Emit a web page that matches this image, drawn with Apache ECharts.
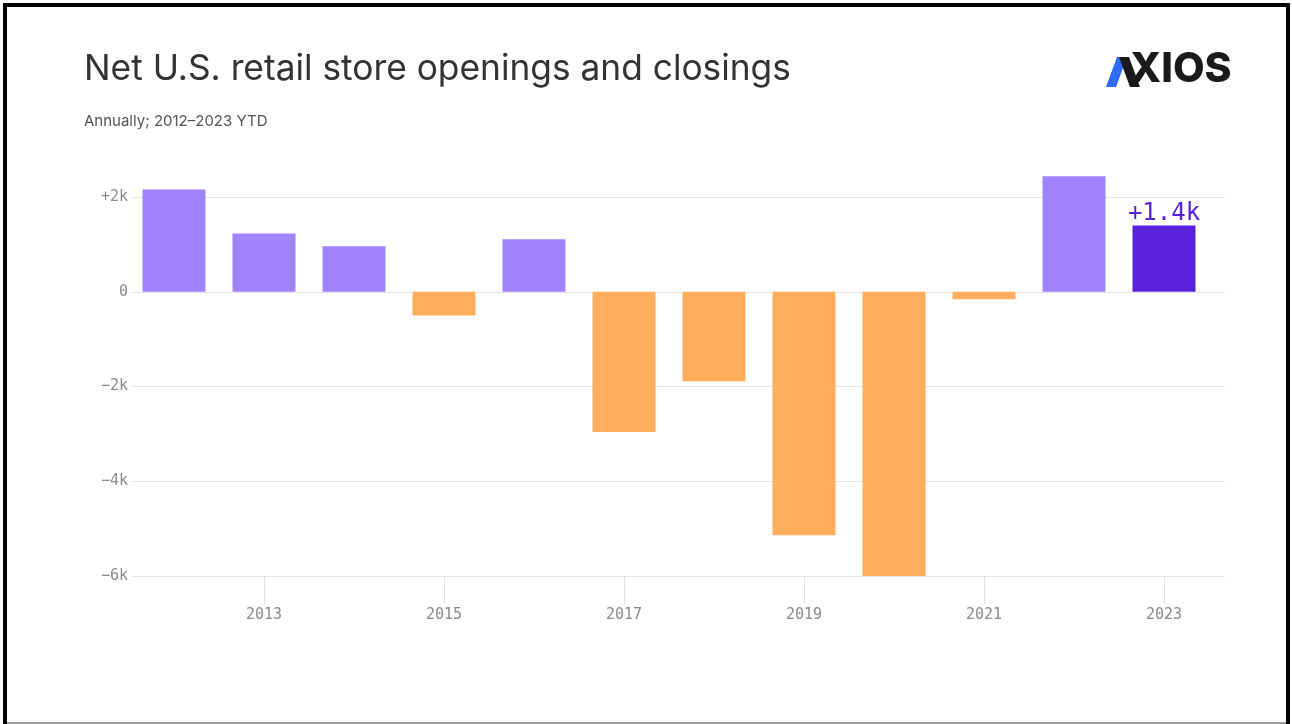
<!DOCTYPE html>
<html>
<head>
<meta charset="utf-8">
<title>Net U.S. retail store openings and closings</title>
<script src="https://cdn.jsdelivr.net/npm/echarts@6/dist/echarts.min.js"></script>
<style>
  html, body { margin: 0; padding: 0; background: #fff; overflow: hidden; }
  #chart { position: absolute; left: 0; top: 0; width: 1292px; height: 724px; }
  #frame { position: absolute; left: 3px; top: 3px; width: 1279px; height: 740px;
           border: 4px solid #000; pointer-events: none; }
  #floor { position: absolute; left: 7px; top: 722px; width: 1279px; height: 2px;
           background: #9a9a9a; pointer-events: none; }
</style>
</head>
<body>
<div id="chart"></div>
<div id="frame"></div>
<div id="floor"></div>
<script>
// Net store openings minus closings, by year (2023 is year-to-date)
const years = ['2012', '2013', '2014', '2015', '2016', '2017',
               '2018', '2019', '2020', '2021', '2022', '2023'];
const netChange = [2160, 1230, 960, -500, 1110, -2960,
                   -1890, -5140, -6000, -160, 2440, 1400];
const yTicks = { min: -6000, max: 2000, step: 2000 };

const COLOR_OPEN = '#a182fd';
const COLOR_CLOSE = '#ffae5e';
const COLOR_YTD = '#5823db';
const MONO = '"DejaVu Sans Mono", monospace';

const lastIdx = years.length - 1;

function fmtK(v) {
  const k = Math.abs(v) / 1000;
  if (v > 0) return '+' + k + 'k';
  if (v < 0) return '\u2212' + k + 'k';
  return '0';
}

const barData = netChange.map((v, i) => ({
  value: v,
  itemStyle: { color: i === lastIdx ? COLOR_YTD : (v >= 0 ? COLOR_OPEN : COLOR_CLOSE) },
  label: i === lastIdx ? {
    show: true,
    position: 'top',
    distance: 0,
    formatter: (p) => fmtK(p.value),
    color: COLOR_YTD,
    fontFamily: MONO,
    fontSize: 24
  } : { show: false }
}));

const oddYear = (idx) => idx % 2 === 1;

const chart = echarts.init(document.getElementById('chart'), null, { renderer: 'canvas' });

chart.setOption({
  animation: false,
  backgroundColor: '#fff',
  grid: [
    { left: 129, right: 83, top: 197, bottom: 148 },   // bars
    { left: 132, right: 67, top: 197, bottom: 148 }    // gridlines + y labels
  ],
  xAxis: [
    {
      type: 'category',
      gridIndex: 0,
      data: years,
      axisLine: { show: false, onZero: false },
      axisTick: {
        show: true,
        alignWithLabel: true,
        interval: oddYear,
        length: 28,
        lineStyle: { color: '#e3e3e3', width: 1 }
      },
      axisLabel: {
        interval: oddYear,
        margin: 32,
        color: '#8a8a8a',
        fontFamily: MONO,
        fontSize: 15
      },
      splitLine: { show: false }
    },
    {
      type: 'category',
      gridIndex: 1,
      data: years,
      show: false
    }
  ],
  yAxis: [
    {
      type: 'value',
      gridIndex: 0,
      min: yTicks.min,
      max: yTicks.max,
      interval: yTicks.step,
      show: false,
      splitLine: { show: false }
    },
    {
      type: 'value',
      gridIndex: 1,
      min: yTicks.min,
      max: yTicks.max,
      interval: yTicks.step,
      axisLine: { show: false },
      axisTick: { show: false },
      axisLabel: {
        margin: 4,
        color: '#8a8a8a',
        fontFamily: MONO,
        fontSize: 15,
        formatter: fmtK
      },
      splitLine: { show: true, lineStyle: { color: '#e6e6e6', width: 1 } }
    }
  ],
  series: [
    {
      type: 'bar',
      xAxisIndex: 0,
      yAxisIndex: 0,
      data: barData,
      barWidth: 63,
      clip: false,
      z: 3
    }
  ],
  graphic: [
    {
      type: 'text',
      left: 84, top: 52,
      style: {
        text: 'Net U.S. retail store openings and closings',
        fill: '#333333',
        font: '400 35.3px Inter, "Noto Sans", sans-serif'
      }
    },
    {
      type: 'text',
      left: 84, top: 114,
      style: {
        text: 'Annually; 2012\u20132023 YTD',
        fill: '#555555',
        font: '400 15px Inter, "Noto Sans", sans-serif'
      }
    },
    // AXIOS wordmark
    {
      type: 'polygon',
      shape: { points: [[1106, 87], [1117, 57], [1127, 57], [1116, 87]] },
      style: { fill: '#2f6bf4' }
    },
    {
      type: 'polygon',
      shape: { points: [[1119, 57], [1129, 57], [1140, 87], [1130, 87]] },
      style: { fill: '#1a1a1a' }
    },
    {
      type: 'text',
      left: 1130, top: 49,
      style: {
        text: 'XIOS',
        fill: '#1a1a1a',
        font: '800 41px Inter, sans-serif'
      }
    }
  ]
});
</script>
</body>
</html>
